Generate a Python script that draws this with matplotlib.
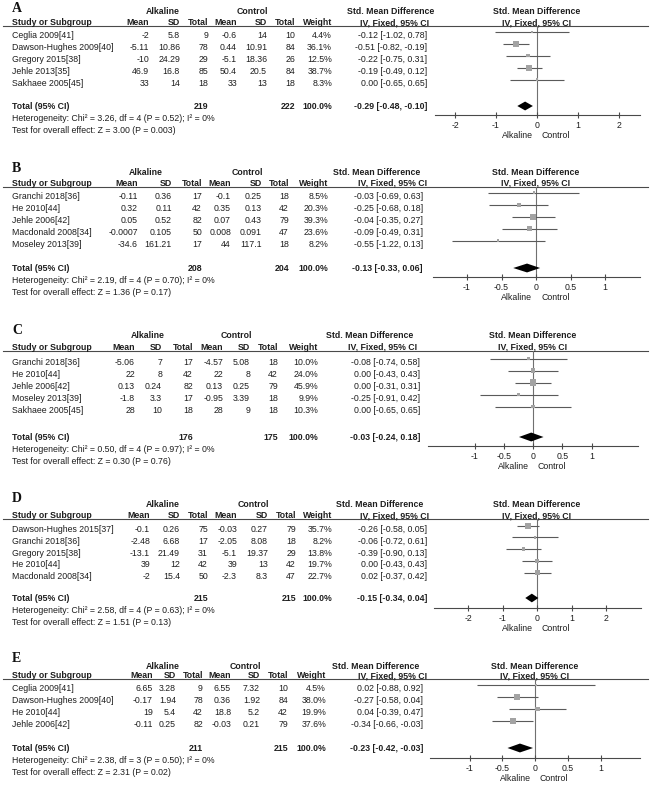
import matplotlib
matplotlib.use("Agg")
import matplotlib.pyplot as plt
import numpy as np

plt.rcParams['font.family'] = ['Liberation Sans', 'DejaVu Sans']
plt.rcParams['axes.unicode_minus'] = False

# ---------------- DATA ----------------
# Panel A
A_STUDY = ["Ceglia 2009[41]", "Dawson-Hughes 2009[40]", "Gregory 2015[38]", "Jehle 2013[35]", "Sakhaee 2005[45]"]
A_ALK_MEAN = [-2, -5.11, -10, 46.9, 33]
A_ALK_SD = [5.8, 10.86, 24.29, 16.8, 14]
A_ALK_N = [9, 78, 29, 85, 18]
A_CTL_MEAN = [-0.6, 0.44, -5.1, 50.4, 33]
A_CTL_SD = [14, 10.91, 18.36, 20.5, 13]
A_CTL_N = [10, 84, 26, 84, 18]
A_WEIGHT = [4.4, 36.1, 12.5, 38.7, 8.3]
A_SMD = [-0.12, -0.51, -0.22, -0.19, 0.00]
A_LO = [-1.02, -0.82, -0.75, -0.49, -0.65]
A_HI = [0.78, -0.19, 0.31, 0.12, 0.65]
A_TOTAL = [219, 222, 100.0, -0.29, -0.48, -0.10]   # alk n, ctl n, weight, smd, lo, hi
A_HET = [3.26, 4, 0.52, 0]                         # chi2, df, p, I2
A_TEST = [3.00, 0.003]                             # Z, p
A_TICKS = [-2, -1, 0, 1, 2]

# Panel B
B_STUDY = ["Granchi 2018[36]", "He 2010[44]", "Jehle 2006[42]", "Macdonald 2008[34]", "Moseley 2013[39]"]
B_ALK_MEAN = [-0.11, 0.32, 0.05, -0.0007, -34.6]
B_ALK_SD = [0.36, 0.11, 0.52, 0.105, 161.21]
B_ALK_N = [17, 42, 82, 50, 17]
B_CTL_MEAN = [-0.1, 0.35, 0.07, 0.008, 44]
B_CTL_SD = [0.25, 0.13, 0.43, 0.091, 117.1]
B_CTL_N = [18, 42, 79, 47, 18]
B_WEIGHT = [8.5, 20.3, 39.3, 23.6, 8.2]
B_SMD = [-0.03, -0.25, -0.04, -0.09, -0.55]
B_LO = [-0.69, -0.68, -0.35, -0.49, -1.22]
B_HI = [0.63, 0.18, 0.27, 0.31, 0.13]
B_TOTAL = [208, 204, 100.0, -0.13, -0.33, 0.06]
B_HET = [2.19, 4, 0.70, 0]
B_TEST = [1.36, 0.17]
B_TICKS = [-1, -0.5, 0, 0.5, 1]

# Panel C
C_STUDY = ["Granchi 2018[36]", "He 2010[44]", "Jehle 2006[42]", "Moseley 2013[39]", "Sakhaee 2005[45]"]
C_ALK_MEAN = [-5.06, 22, 0.13, -1.8, 28]
C_ALK_SD = [7, 8, 0.24, 3.3, 10]
C_ALK_N = [17, 42, 82, 17, 18]
C_CTL_MEAN = [-4.57, 22, 0.13, -0.95, 28]
C_CTL_SD = [5.08, 8, 0.25, 3.39, 9]
C_CTL_N = [18, 42, 79, 18, 18]
C_WEIGHT = [10.0, 24.0, 45.9, 9.9, 10.3]
C_SMD = [-0.08, 0.00, 0.00, -0.25, 0.00]
C_LO = [-0.74, -0.43, -0.31, -0.91, -0.65]
C_HI = [0.58, 0.43, 0.31, 0.42, 0.65]
C_TOTAL = [176, 175, 100.0, -0.03, -0.24, 0.18]
C_HET = [0.50, 4, 0.97, 0]
C_TEST = [0.30, 0.76]
C_TICKS = [-1, -0.5, 0, 0.5, 1]

# Panel D
D_STUDY = ["Dawson-Hughes 2015[37]", "Granchi 2018[36]", "Gregory 2015[38]", "He 2010[44]", "Macdonald 2008[34]"]
D_ALK_MEAN = [-0.1, -2.48, -13.1, 39, -2]
D_ALK_SD = [0.26, 6.68, 21.49, 12, 15.4]
D_ALK_N = [75, 17, 31, 42, 50]
D_CTL_MEAN = [-0.03, -2.05, -5.1, 39, -2.3]
D_CTL_SD = [0.27, 8.08, 19.37, 13, 8.3]
D_CTL_N = [79, 18, 29, 42, 47]
D_WEIGHT = [35.7, 8.2, 13.8, 19.7, 22.7]
D_SMD = [-0.26, -0.06, -0.39, 0.00, 0.02]
D_LO = [-0.58, -0.72, -0.90, -0.43, -0.37]
D_HI = [0.05, 0.61, 0.13, 0.43, 0.42]
D_TOTAL = [215, 215, 100.0, -0.15, -0.34, 0.04]
D_HET = [2.58, 4, 0.63, 0]
D_TEST = [1.51, 0.13]
D_TICKS = [-2, -1, 0, 1, 2]

# Panel E
E_STUDY = ["Ceglia 2009[41]", "Dawson-Hughes 2009[40]", "He 2010[44]", "Jehle 2006[42]"]
E_ALK_MEAN = [6.65, -0.17, 19, -0.11]
E_ALK_SD = [3.28, 1.94, 5.4, 0.25]
E_ALK_N = [9, 78, 42, 82]
E_CTL_MEAN = [6.55, 0.36, 18.8, -0.03]
E_CTL_SD = [7.32, 1.92, 5.2, 0.21]
E_CTL_N = [10, 84, 42, 79]
E_WEIGHT = [4.5, 38.0, 19.9, 37.6]
E_SMD = [0.02, -0.27, 0.04, -0.34]
E_LO = [-0.88, -0.58, -0.39, -0.66]
E_HI = [0.92, 0.04, 0.47, -0.03]
E_TOTAL = [211, 215, 100.0, -0.23, -0.42, -0.03]
E_HET = [2.38, 3, 0.50, 0]
E_TEST = [2.31, 0.02]
E_TICKS = [-1, -0.5, 0, 0.5, 1]

# ---------------- LAYOUT (pixels) ----------------
W, H = 650, 785
LAYOUT = {
    "A": dict(letter_y=7.5, grp_y=11, line_y=26, row0=35, sp=12, total_y=106, axis_y=115,
              cols=[149, 180, 208, 237, 267, 295, 332], ci_r=427, std_c=391, iv_c=395,
              zero=537, unit=41, lim=2.5, alk_c=163, ctl_c=252),
    "B": dict(letter_y=168, grp_y=171.5, line_y=186.5, row0=196, sp=12, total_y=268, axis_y=277,
              cols=[138, 172, 202, 231, 262, 289, 328], ci_r=423, std_c=377, iv_c=393,
              zero=536, unit=69, lim=1.5, alk_c=146, ctl_c=247),
    "C": dict(letter_y=330, grp_y=334.5, line_y=350.5, row0=362, sp=12, total_y=437, axis_y=446,
              cols=[135, 162, 193, 223, 250, 278, 318], ci_r=420, std_c=370, iv_c=383,
              zero=533, unit=58.5, lim=1.8, alk_c=148, ctl_c=236),
    "D": dict(letter_y=498, grp_y=504, line_y=519, row0=529, sp=11.75, total_y=598, axis_y=608,
              cols=[150, 180, 208, 237, 268, 296, 332], ci_r=427, std_c=380, iv_c=395,
              zero=537, unit=34.5, lim=3.0, alk_c=163, ctl_c=253),
    "E": dict(letter_y=658, grp_y=666, line_y=679, row0=688, sp=12, total_y=748, axis_y=758,
              cols=[153, 176, 203, 231, 260, 288, 326], ci_r=423, std_c=376, iv_c=393,
              zero=535, unit=65.5, lim=1.6, alk_c=163, ctl_c=245),
}

PANELS = {
    "A": (A_STUDY, A_ALK_MEAN, A_ALK_SD, A_ALK_N, A_CTL_MEAN, A_CTL_SD, A_CTL_N, A_WEIGHT,
          A_SMD, A_LO, A_HI, A_TOTAL, A_HET, A_TEST, A_TICKS),
    "B": (B_STUDY, B_ALK_MEAN, B_ALK_SD, B_ALK_N, B_CTL_MEAN, B_CTL_SD, B_CTL_N, B_WEIGHT,
          B_SMD, B_LO, B_HI, B_TOTAL, B_HET, B_TEST, B_TICKS),
    "C": (C_STUDY, C_ALK_MEAN, C_ALK_SD, C_ALK_N, C_CTL_MEAN, C_CTL_SD, C_CTL_N, C_WEIGHT,
          C_SMD, C_LO, C_HI, C_TOTAL, C_HET, C_TEST, C_TICKS),
    "D": (D_STUDY, D_ALK_MEAN, D_ALK_SD, D_ALK_N, D_CTL_MEAN, D_CTL_SD, D_CTL_N, D_WEIGHT,
          D_SMD, D_LO, D_HI, D_TOTAL, D_HET, D_TEST, D_TICKS),
    "E": (E_STUDY, E_ALK_MEAN, E_ALK_SD, E_ALK_N, E_CTL_MEAN, E_CTL_SD, E_CTL_N, E_WEIGHT,
          E_SMD, E_LO, E_HI, E_TOTAL, E_HET, E_TEST, E_TICKS),
}

FS = 6.3
TXT = "#1e1e1e"
LINE = "#4a4a4a"
SQUARE = "#a3a3a3"
CI_COL = "#5a5a5a"
ASC = 3.2   # half cap height in px (center -> baseline)


def fmt_p(p):
    return f"{p:.3f}" if p < 0.01 else f"{p:.2f}"


def fmt_ci(s, lo, hi):
    return f"{s:.2f} [{lo:.2f}, {hi:.2f}]"


fig = plt.figure(figsize=(W / 100, H / 100), dpi=100)
bg = fig.add_axes([0, 0, 1, 1])
bg.set_xlim(0, W)
bg.set_ylim(H, 0)
bg.axis("off")


def t(x, y, s, ha="left", bold=False, **kw):
    bg.text(x, y + ASC, s, ha=ha, va="baseline", fontsize=FS, color=TXT,
            fontweight="bold" if bold else "normal", **kw)


for key, L in LAYOUT.items():
    (study, am, asd, an, cm, csd, cn, wt, smd, lo, hi, tot, het, test, ticks) = PANELS[key]
    # panel letter
    bg.text(12, L["letter_y"] + 4.5, key, ha="left", va="baseline", fontsize=10,
            fontweight="bold", family=["Liberation Serif", "DejaVu Serif"], color="#111")
    # group headers
    t(L["alk_c"], L["grp_y"], "Alkaline", ha="center", bold=True)
    t(L["ctl_c"], L["grp_y"], "Control", ha="center", bold=True)
    t(L["std_c"], L["grp_y"], "Std. Mean Difference", ha="center", bold=True)
    t(L["zero"], L["grp_y"], "Std. Mean Difference", ha="center", bold=True)
    # header row (sitting on line)
    hy = L["line_y"] - 0.8 - ASC
    t(12, hy, "Study or Subgroup", bold=True)
    for x, s in zip(L["cols"], ["Mean", "SD", "Total", "Mean", "SD", "Total", "Weight"]):
        t(x, hy, s, ha="right", bold=True)
    t(L["iv_c"], hy, "IV, Fixed, 95% CI", ha="center", bold=True)
    t(L["zero"], hy, "IV, Fixed, 95% CI", ha="center", bold=True)
    bg.plot([3, 648], [L["line_y"], L["line_y"]], color=LINE, lw=0.8)

    # study rows
    n = len(study)
    for i in range(n):
        y = L["row0"] + L["sp"] * i
        t(12, y, study[i])
        vals = [f"{am[i]:g}", f"{asd[i]:g}", f"{an[i]}", f"{cm[i]:g}", f"{csd[i]:g}",
                f"{cn[i]}", f"{wt[i]:.1f}%"]
        for x, s in zip(L["cols"], vals):
            t(x, y, s, ha="right")
        t(L["ci_r"], y, fmt_ci(smd[i], lo[i], hi[i]), ha="right")

    # total row
    ty = L["total_y"]
    t(12, ty, "Total (95% CI)", bold=True)
    t(L["cols"][2], ty, f"{tot[0]}", ha="right", bold=True)
    t(L["cols"][5], ty, f"{tot[1]}", ha="right", bold=True)
    t(L["cols"][6], ty, f"{tot[2]:.1f}%", ha="right", bold=True)
    t(L["ci_r"], ty, fmt_ci(tot[3], tot[4], tot[5]), ha="right", bold=True)
    t(12, ty + 12, f"Heterogeneity: Chi\u00b2 = {het[0]:.2f}, df = {het[1]} (P = {fmt_p(het[2])}); "
                    f"I\u00b2 = {het[3]}%")
    t(12, ty + 24, f"Test for overall effect: Z = {test[0]:.2f} (P = {fmt_p(test[1])})")

    # forest plot axes
    x0 = L["zero"] - L["lim"] * L["unit"]
    wpx = 2 * L["lim"] * L["unit"]
    ax = fig.add_axes([x0 / W, 1 - L["axis_y"] / H, wpx / W, (L["axis_y"] - L["line_y"]) / H])
    ax.patch.set_visible(False)
    r0f = L["row0"] - 3.3
    sp = L["sp"]
    ax.set_xlim(-L["lim"], L["lim"])
    ax.set_ylim((L["axis_y"] - r0f) / sp, (L["line_y"] - r0f) / sp)
    for s in ["top", "left", "right"]:
        ax.spines[s].set_visible(False)
    ax.spines["bottom"].set_color(LINE)
    ax.spines["bottom"].set_linewidth(0.8)
    ax.set_yticks([])
    ax.set_xticks(ticks)
    ax.set_xticklabels([f"{v:g}" for v in ticks])
    ax.tick_params(axis="x", direction="inout", length=5, width=0.8, color=LINE,
                   labelsize=FS, labelcolor=TXT, pad=1.8)
    ax.axvline(0, color="#707070", lw=0.8, zorder=1)
    rows = np.arange(n)
    ax.hlines(rows, lo, hi, color=CI_COL, lw=0.8, zorder=2)
    side_px = 9.6 * np.sqrt(np.array(wt) / 100.0)
    ax.scatter(smd, rows, s=(side_px * 0.72) ** 2, marker="s", color=SQUARE,
               linewidths=0, zorder=3)
    # total diamond
    trow = (ty - r0f) / sp
    hh = 0.37
    ax.fill([tot[4], tot[3], tot[5], tot[3]], [trow, trow - hh, trow, trow + hh],
            color="black", lw=0, zorder=4)

    # favours labels
    ly = L["axis_y"] + 20
    t(L["zero"] - 4, ly, "Alkaline", ha="right")
    t(L["zero"] + 5, ly, "Control", ha="left")

fig.savefig("out.png", dpi=100, facecolor="white")
